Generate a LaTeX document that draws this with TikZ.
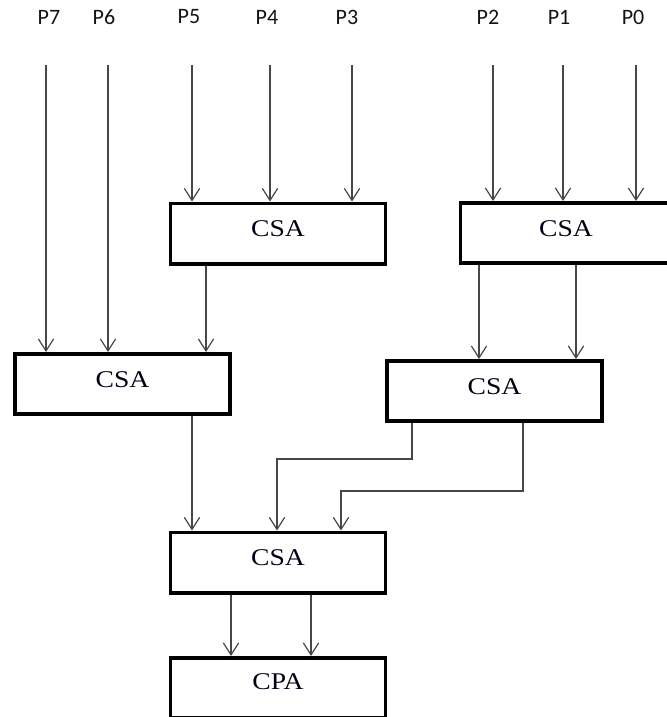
\documentclass[tikz,border=0pt]{standalone}
\usepackage{fontspec}
\usetikzlibrary{arrows.meta}
\newfontfamily\inlabelfont{Carlito}
\newfontfamily\blockfont{Liberation Serif}

\tikzset{
  inlabel/.style={font=\inlabelfont\fontsize{16.5}{18}\selectfont, text=black!92, inner sep=0pt},
  block/.style={draw=black, line width=2.8pt, minimum width=161.4pt, minimum height=45.2pt, inner sep=0pt, fill=white},
  blocktext/.style={font=\blockfont\fontsize{18}{20}\selectfont, text=black!92!blue, inner sep=0pt},
  wire/.style={draw=black!72, line width=0.9pt, arrows={-Straight Barb[length=9pt,width=11.5pt]}},
}

\begin{document}
\begin{tikzpicture}[x=0.75pt, y=-0.75pt]
  \useasboundingbox (0,0) rectangle (667,717);
  \clip (0,0) rectangle (667,717);

  % operand labels
  \node[inlabel] (p7) at (49,17) {P7};
  \node[inlabel] (p6) at (104,17) {P6};
  \node[inlabel] (p5) at (189,17) {P5};
  \node[inlabel] (p4) at (267,17) {P4};
  \node[inlabel] (p3) at (347,17) {P3};
  \node[inlabel] (p2) at (488,17) {P2};
  \node[inlabel] (p1) at (559,17) {P1};
  \node[inlabel] (p0) at (633,17) {P0};

  % upper ends of the operand wires
  \coordinate (t7) at (46,65);
  \coordinate (t6) at (108,65);
  \coordinate (t5) at (192,65);
  \coordinate (t4) at (270,65);
  \coordinate (t3) at (352,65);
  \coordinate (t2) at (493,65);
  \coordinate (t1) at (563,65);
  \coordinate (t0) at (636,65);

  % adder blocks
  \node[block] (csaTL) at (278,233.5) {};
  \node[block] (csaTR) at (568,233) {};
  \node[block] (csaL)  at (122.5,384) {};
  \node[block] (csaM)  at (494.5,391) {};
  \node[block] (csaB)  at (278,562.5) {};
  \node[block] (cpa)   at (278,688) {};

  \node[blocktext] (csaTLt) at ([yshift=3.4pt]csaTL.center) {\scalebox{1.15}[1]{CSA}};
  \node[blocktext] (csaTRt) at ([xshift=-1.5pt,yshift=3.4pt]csaTR.center) {\scalebox{1.15}[1]{CSA}};
  \node[blocktext] (csaLt)  at ([yshift=3pt]csaL.center) {\scalebox{1.15}[1]{CSA}};
  \node[blocktext] (csaMt)  at ([yshift=3pt]csaM.center) {\scalebox{1.15}[1]{CSA}};
  \node[blocktext] (csaBt)  at ([yshift=3.4pt]csaB.center) {\scalebox{1.15}[1]{CSA}};
  \node[blocktext] (cpat)   at ([yshift=4.5pt]cpa.center) {\scalebox{1.15}[1]{CPA}};

  % operand wires
  \draw[wire] (t7) -- (t7 |- csaL.north);
  \draw[wire] (t6) -- (t6 |- csaL.north);
  \draw[wire] (t5) -- (t5 |- csaTL.north);
  \draw[wire] (t4) -- (t4 |- csaTL.north);
  \draw[wire] (t3) -- (t3 |- csaTL.north);
  \draw[wire] (t2) -- (t2 |- csaTR.north);
  \draw[wire] (t1) -- (t1 |- csaTR.north);
  \draw[wire] (t0) -- (t0 |- csaTR.north);

  % x positions of the inner wires
  \coordinate (xa) at (206,0);
  \coordinate (xb) at (479,0);
  \coordinate (xc) at (576,0);
  \coordinate (xd) at (192,0);
  \coordinate (xe) at (412,0);
  \coordinate (xf) at (523,0);
  \coordinate (xg) at (277,0);
  \coordinate (xh) at (341,0);
  \coordinate (xi) at (231,0);
  \coordinate (xj) at (311,0);
  \coordinate (ya) at (0,459);
  \coordinate (yb) at (0,491);

  % inner wires
  \draw[wire] (csaTL.south -| xa) -- (xa |- csaL.north);
  \draw[wire] (csaTR.south -| xb) -- (xb |- csaM.north);
  \draw[wire] (csaTR.south -| xc) -- (xc |- csaM.north);
  \draw[wire] (csaL.south -| xd) -- (xd |- csaB.north);
  \draw[wire] (csaM.south -| xe) -- (xe |- ya) -- (xg |- ya) -- (xg |- csaB.north);
  \draw[wire] (csaM.south -| xf) -- (xf |- yb) -- (xh |- yb) -- (xh |- csaB.north);
  \draw[wire] (csaB.south -| xi) -- (xi |- cpa.north);
  \draw[wire] (csaB.south -| xj) -- (xj |- cpa.north);
\end{tikzpicture}
\end{document}
